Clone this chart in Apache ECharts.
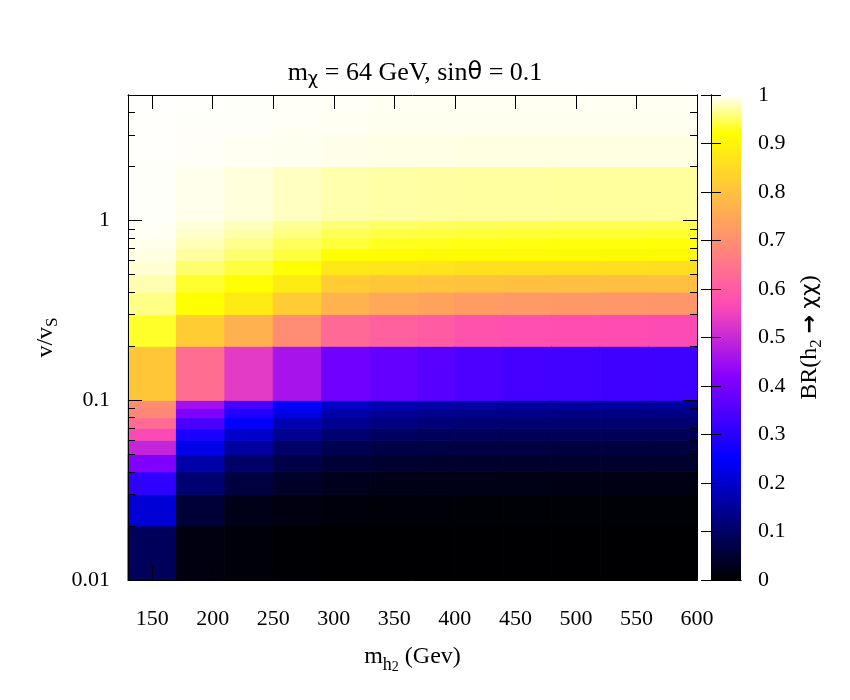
<!DOCTYPE html>
<html>
<head>
<meta charset="utf-8">
<script src="https://cdn.jsdelivr.net/npm/echarts@6/dist/echarts.min.js"></script>
<style>
html,body{margin:0;padding:0;background:#ffffff;}
#chart{width:850px;height:700px;}
</style>
</head>
<body>
<div id="chart"></div>
<script>
// ---------- data ----------
// cell edges along m_h2 (GeV)
const xEdges = [130, 170, 210, 250, 290, 330, 370, 400, 440, 480, 520, 560, 600];
// cell edges along v/v_S
const yEdges = [0.01, 0.02, 0.03, 0.04, 0.05, 0.06, 0.07, 0.08, 0.09,
                0.1, 0.2, 0.3, 0.4, 0.5, 0.6, 0.7, 0.8, 0.9,
                1, 2, 3, 4, 5];
// tick labels
const xTicks = [150, 200, 250, 300, 350, 400, 450, 500, 550, 600];
const yMajorTicks = [0.01, 0.1, 1];
const yMinorTicks = [0.02, 0.03, 0.04, 0.05, 0.06, 0.07, 0.08, 0.09,
                     0.2, 0.3, 0.4, 0.5, 0.6, 0.7, 0.8, 0.9, 2, 3, 4];

// BR(h2 -> chi chi), one array per m_h2 column, bottom (v/vS = 0.01) to top
const br_130 = [0.088, 0.21, 0.31, 0.41, 0.495, 0.565, 0.63, 0.685, 0.695, 0.81, 0.933, 0.962, 0.976, 0.986, 0.991, 0.994, 0.996, 0.997, 0.998, 0.999, 0.999, 0.9995];
const br_170 = [0.016, 0.055, 0.11, 0.165, 0.228, 0.285, 0.343, 0.41, 0.45, 0.635, 0.82, 0.92, 0.934, 0.954, 0.97, 0.978, 0.984, 0.988, 0.994, 0.9976, 0.998, 0.999];
const br_210 = [0.008, 0.024, 0.063, 0.102, 0.157, 0.2, 0.25, 0.29, 0.336, 0.535, 0.765, 0.88, 0.92, 0.94, 0.955, 0.964, 0.973, 0.979, 0.989, 0.996, 0.998, 0.998];
const br_250 = [0.004, 0.016, 0.04, 0.07, 0.102, 0.141, 0.173, 0.223, 0.255, 0.46, 0.695, 0.82, 0.88, 0.92, 0.94, 0.949, 0.96, 0.967, 0.981, 0.995, 0.997, 0.997];
const br_290 = [0.003, 0.01, 0.028, 0.055, 0.078, 0.11, 0.141, 0.165, 0.196, 0.39, 0.625, 0.77, 0.82, 0.875, 0.92, 0.938, 0.947, 0.957, 0.974, 0.993, 0.996, 0.997];
const br_330 = [0.002, 0.008, 0.024, 0.047, 0.07, 0.094, 0.125, 0.15, 0.175, 0.375, 0.61, 0.75, 0.81, 0.87, 0.915, 0.93, 0.942, 0.952, 0.972, 0.992, 0.995, 0.996];
const br_370 = [0.002, 0.008, 0.023, 0.046, 0.068, 0.09, 0.118, 0.14, 0.168, 0.36, 0.6, 0.74, 0.805, 0.865, 0.913, 0.928, 0.94, 0.95, 0.971, 0.992, 0.995, 0.996];
const br_400 = [0.002, 0.007, 0.022, 0.045, 0.066, 0.088, 0.113, 0.135, 0.16, 0.346, 0.58, 0.725, 0.8, 0.86, 0.912, 0.926, 0.938, 0.948, 0.97, 0.991, 0.995, 0.996];
const br_440 = [0.002, 0.007, 0.022, 0.044, 0.065, 0.087, 0.111, 0.133, 0.157, 0.335, 0.575, 0.72, 0.797, 0.86, 0.91, 0.925, 0.937, 0.947, 0.97, 0.991, 0.995, 0.996];
const br_480 = [0.002, 0.007, 0.021, 0.044, 0.064, 0.086, 0.11, 0.132, 0.156, 0.332, 0.572, 0.718, 0.795, 0.858, 0.91, 0.924, 0.936, 0.946, 0.969, 0.991, 0.995, 0.996];
const br_520 = [0.002, 0.007, 0.021, 0.043, 0.064, 0.086, 0.109, 0.131, 0.155, 0.33, 0.57, 0.716, 0.795, 0.857, 0.909, 0.924, 0.936, 0.946, 0.969, 0.991, 0.995, 0.996];
const br_560 = [0.002, 0.007, 0.021, 0.043, 0.063, 0.085, 0.108, 0.13, 0.154, 0.328, 0.568, 0.715, 0.794, 0.856, 0.909, 0.923, 0.935, 0.945, 0.969, 0.991, 0.995, 0.996];

const columns = [br_130, br_170, br_210, br_250, br_290, br_330, br_370, br_400, br_440, br_480, br_520, br_560];

// ---------- build cells ----------
const cells = [];
columns.forEach(function (col, i) {
  col.forEach(function (v, j) {
    cells.push([xEdges[i], xEdges[i + 1], yEdges[j], yEdges[j + 1], v]);
  });
});

// gnuplot palette rgbformulae 30,31,32
function clamp(t) { return Math.max(0, Math.min(1, t)); }
function palette(v) {
  const r = clamp(v / 0.32 - 0.78125);
  const g = clamp(2 * v - 0.84);
  let b;
  if (v < 0.25) b = 4 * v;
  else if (v < 0.42) b = 1;
  else if (v < 0.92) b = -2 * v + 1.84;
  else b = v / 0.08 - 11.5;
  b = clamp(b);
  const h = function (c) { return Math.round(c * 255); };
  return 'rgb(' + h(r) + ',' + h(g) + ',' + h(b) + ')';
}
const paletteColors = [];
const gradStops = [];
for (let k = 0; k <= 200; k++) {
  const t = k / 200;
  paletteColors.push(palette(t));
  gradStops.push({ offset: t, color: palette(t) });
}

const SERIF = "'Liberation Serif', 'Times New Roman', serif";
const SANS = "'DejaVu Sans', sans-serif";

const baseAxis = {
  z: 10,
  axisLine: { show: true, lineStyle: { color: '#000', width: 1 } },
  splitLine: { show: false },
  axisPointer: { show: false }
};

const chart = echarts.init(document.getElementById('chart'), null, { renderer: 'canvas' });

const option = {
  backgroundColor: '#ffffff',
  animation: false,
  title: {
    text: '{a|m}{s|χ}{a| = 64 GeV, sin}{g|θ}{a| = 0.1}',
    left: 410,
    textAlign: 'center',
    top: 53,
    textStyle: {
      fontWeight: 'normal',
      rich: {
        a: { fontFamily: SERIF, fontSize: 26, fontWeight: 'normal', color: '#000', lineHeight: 30 },
        s: { fontFamily: SANS, fontSize: 18, fontWeight: 'normal', color: '#000', lineHeight: 20, verticalAlign: 'bottom' },
        g: { fontFamily: SANS, fontSize: 24, fontWeight: 'normal', color: '#000', lineHeight: 30 }
      }
    }
  },
  grid: [
    { left: 128, top: 95, width: 569, height: 485, containLabel: false },
    { left: 711, top: 95, width: 30, height: 485, containLabel: false }
  ],
  visualMap: {
    show: false,
    type: 'continuous',
    min: 0,
    max: 1,
    dimension: 4,
    seriesIndex: 0,
    inRange: { color: paletteColors }
  },
  xAxis: [
    Object.assign({}, baseAxis, {
      gridIndex: 0, type: 'value', min: 130, max: 600, position: 'bottom',
      axisTick: { show: true, inside: true, length: 14, customValues: xTicks, lineStyle: { color: '#000' } },
      axisLabel: { show: true, customValues: xTicks, margin: 28, color: '#000', fontFamily: SERIF, fontSize: 22 },
      name: '{a|m}{s|h}{t|2}{a| (Gev)}',
      nameLocation: 'middle',
      nameGap: 60,
      nameTextStyle: {
        rich: {
          a: { fontFamily: SERIF, fontSize: 24, color: '#000', lineHeight: 34 },
          s: { fontFamily: SERIF, fontSize: 18, color: '#000', lineHeight: 22, verticalAlign: 'bottom' },
          t: { fontFamily: SERIF, fontSize: 14, color: '#000', lineHeight: 12, verticalAlign: 'bottom' }
        }
      }
    }),
    Object.assign({}, baseAxis, {
      gridIndex: 0, type: 'value', min: 130, max: 600, position: 'top',
      axisTick: { show: true, inside: true, length: 14, customValues: xTicks, lineStyle: { color: '#000' } },
      axisLabel: { show: false }
    }),
    Object.assign({}, baseAxis, {
      gridIndex: 1, type: 'value', min: 0, max: 1, position: 'bottom',
      axisTick: { show: false }, axisLabel: { show: false }
    }),
    Object.assign({}, baseAxis, {
      gridIndex: 1, type: 'value', min: 0, max: 1, position: 'top',
      axisTick: { show: false }, axisLabel: { show: false }
    })
  ],
  yAxis: [
    Object.assign({}, baseAxis, {
      gridIndex: 0, type: 'log', logBase: 10, min: 0.01, max: 5, position: 'left',
      axisTick: { show: true, inside: true, length: 14, customValues: yMajorTicks, lineStyle: { color: '#000' } },
      axisLabel: { show: true, customValues: yMajorTicks, margin: 18, color: '#000', fontFamily: SERIF, fontSize: 22,
                   formatter: function (v) { return String(+v.toPrecision(3)); } },
      minorTick: { show: false },
      name: '{a|v/v}{s|S}',
      nameLocation: 'middle',
      nameRotate: 90,
      nameGap: 64,
      nameTextStyle: {
        rich: {
          a: { fontFamily: SERIF, fontSize: 24, color: '#000', lineHeight: 30 },
          s: { fontFamily: SERIF, fontSize: 17, color: '#000', lineHeight: 20, verticalAlign: 'bottom' }
        }
      }
    }),
    Object.assign({}, baseAxis, {
      gridIndex: 0, type: 'log', logBase: 10, min: 0.01, max: 5, position: 'left',
      axisTick: { show: true, inside: true, length: 7, customValues: yMinorTicks, lineStyle: { color: '#000' } },
      axisLabel: { show: false }, minorTick: { show: false }
    }),
    Object.assign({}, baseAxis, {
      gridIndex: 0, type: 'log', logBase: 10, min: 0.01, max: 5, position: 'right',
      axisTick: { show: true, inside: true, length: 14, customValues: yMajorTicks, lineStyle: { color: '#000' } },
      axisLabel: { show: false }, minorTick: { show: false }
    }),
    Object.assign({}, baseAxis, {
      gridIndex: 0, type: 'log', logBase: 10, min: 0.01, max: 5, position: 'right',
      axisTick: { show: true, inside: true, length: 7, customValues: yMinorTicks, lineStyle: { color: '#000' } },
      axisLabel: { show: false }, minorTick: { show: false }
    }),
    Object.assign({}, baseAxis, {
      gridIndex: 1, type: 'value', min: 0, max: 1, interval: 0.1, position: 'right',
      axisTick: { show: true, inside: true, length: 10, lineStyle: { color: '#000' } },
      axisLabel: { show: true, margin: 17, color: '#000', fontFamily: SERIF, fontSize: 22 },
      name: '{a|BR(h}{s|2}{a| }{r|→}{a| }{g|χχ}{a|)}',
      nameLocation: 'middle',
      nameRotate: 90,
      nameGap: 54,
      nameTextStyle: {
        rich: {
          a: { fontFamily: SERIF, fontSize: 24, color: '#000', lineHeight: 30 },
          s: { fontFamily: SERIF, fontSize: 17, color: '#000', lineHeight: 20, verticalAlign: 'bottom' },
          r: { fontFamily: SANS, fontSize: 22, fontWeight: 'bold', color: '#000', lineHeight: 30 },
          g: { fontFamily: SANS, fontSize: 22, color: '#000', lineHeight: 30 }
        }
      }
    }),
    Object.assign({}, baseAxis, {
      gridIndex: 1, type: 'value', min: 0, max: 1, interval: 0.1, position: 'left',
      axisTick: { show: true, inside: true, length: 10, lineStyle: { color: '#000' } },
      axisLabel: { show: false }
    })
  ],
  series: [
    {
      type: 'custom',
      xAxisIndex: 0,
      yAxisIndex: 0,
      data: cells,
      encode: { x: [0, 1], y: [2, 3] },
      renderItem: function (params, api) {
        const p0 = api.coord([api.value(0), api.value(3)]);
        const p1 = api.coord([api.value(1), api.value(2)]);
        const cs = params.coordSys;
        const rect = echarts.graphic.clipRectByRect(
          { x: p0[0], y: p0[1], width: p1[0] - p0[0], height: p1[1] - p0[1] },
          { x: cs.x, y: cs.y, width: cs.width, height: cs.height }
        );
        if (!rect) return;
        const c = api.visual('color');
        return { type: 'rect', shape: rect, style: { fill: c, stroke: c, lineWidth: 1 } };
      }
    },
    {
      type: 'custom',
      xAxisIndex: 2,
      yAxisIndex: 4,
      data: [[0, 1, 0, 1]],
      silent: true,
      renderItem: function (params, api) {
        const p0 = api.coord([api.value(0), api.value(3)]);
        const p1 = api.coord([api.value(1), api.value(2)]);
        return {
          type: 'rect',
          shape: { x: p0[0], y: p0[1], width: p1[0] - p0[0], height: p1[1] - p0[1] },
          style: { fill: new echarts.graphic.LinearGradient(0, 1, 0, 0, gradStops) }
        };
      }
    }
  ]
};
chart.setOption(option);
</script>
</body>
</html>
